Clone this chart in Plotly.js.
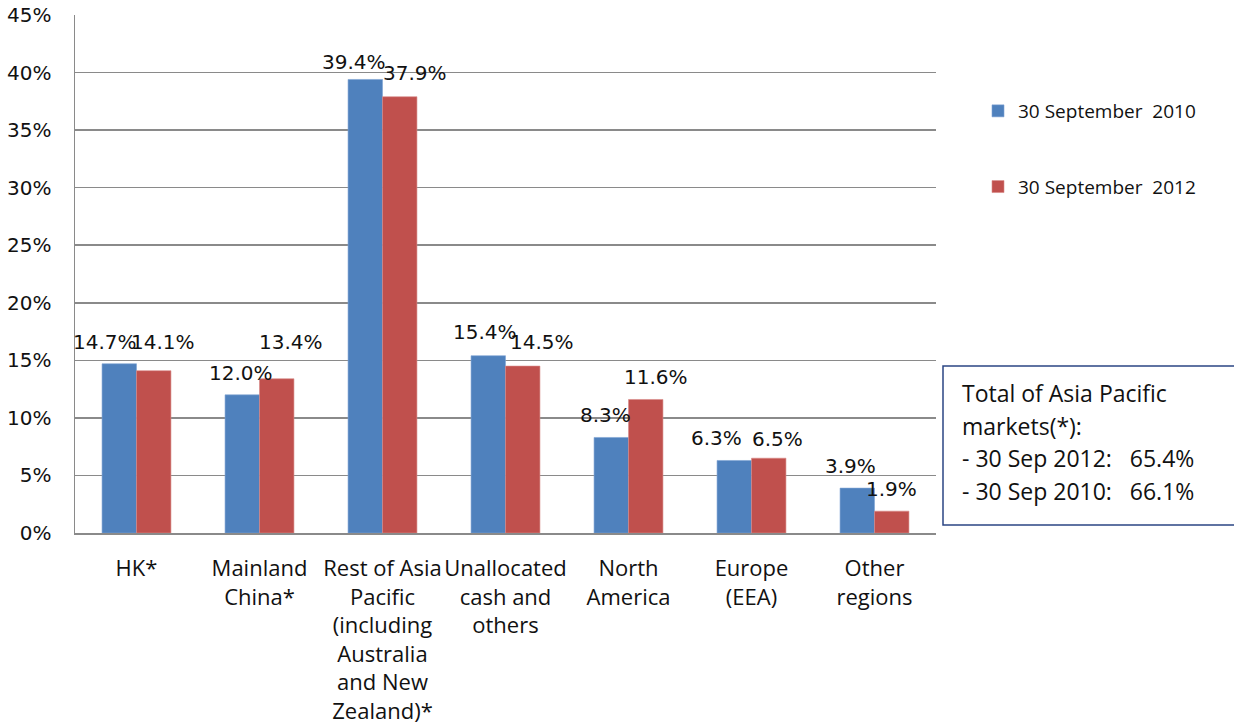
<!DOCTYPE html>
<html>
<head>
<meta charset="utf-8">
<script src="https://cdn.plot.ly/plotly-3.0.1.min.js"></script>
<style>
  html, body { margin: 0; padding: 0; background: #fff; }
  #chart { width: 1234px; height: 727px; }
</style>
</head>
<body>
<div id="chart"></div>
<script>
// Regional breakdown, share of total (%)
const categories = [
  "HK*",
  "Mainland<br>China*",
  "Rest of Asia<br>Pacific<br>(including<br>Australia<br>and New<br>Zealand)*",
  "Unallocated<br>cash and<br>others",
  "North<br>America",
  "Europe<br>(EEA)",
  "Other<br>regions"
];
const seriesNames = ["30 September\u00a0 2010", "30 September\u00a0 2012"];
const values2010 = [14.7, 12.0, 39.4, 15.4, 8.3, 6.3, 3.9];
const values2012 = [14.1, 13.4, 37.9, 14.5, 11.6, 6.5, 1.9];
const yTickValues = [0, 5, 10, 15, 20, 25, 30, 35, 40, 45];
const yTickLabels = ["0%", "5%", "10%", "15%", "20%", "25%", "30%", "35%", "40%", "45%"];
const boxLines = [
  "Total of Asia Pacific",
  "markets(*):",
  "- 30 Sep 2012:\u00a0\u00a0 65.4%",
  "- 30 Sep 2010:\u00a0\u00a0 66.1%"
];

const BLUE = "#4f81bd";
const RED = "#c0504d";
const GRID = "#8a8a8a";
const idx = categories.map((_, i) => i);

// label nudges (px) so neighbouring value labels don't collide
const shift2010 = [[-14, 0], [-1, 0], [-11, -5], [-3, 2], [-6, 0], [-18, 0], [-7, 0]];
const shift2012 = [[9, 7], [14, 15], [15, 2], [19, 2], [10, 0], [9, -3], [0, 0]];

const traces = [
  { type: "bar", name: seriesNames[0], x: idx, y: values2010, legendgroup: "a",
    marker: { color: BLUE, line: { color: "#7ea3d3", width: 0.6 } }, hoverinfo: "skip" },
  { type: "bar", name: seriesNames[1], x: idx, y: values2012, legendgroup: "b",
    marker: { color: RED, line: { color: "#d98a88", width: 0.6 } }, hoverinfo: "skip" }
];

const BAR_OFF = 0.14;
const annotations = [];
function addLabels(vals, offset, shifts) {
  vals.forEach((v, i) => {
    annotations.push({
      xref: "x", yref: "y", x: i + offset, y: v,
      text: v.toFixed(1) + "%", showarrow: false,
      yanchor: "middle", xanchor: "center",
      xshift: shifts[i][0], yshift: 22 + shifts[i][1],
      font: { family: "DejaVu Sans", size: 20, color: "#111" }
    });
  });
}
addLabels(values2010, -BAR_OFF, shift2010);
addLabels(values2012, BAR_OFF, shift2012);

// text inside the summary box
const boxTop = 393, boxStep = 32.5;
boxLines.forEach((line, k) => {
  annotations.push({
    xref: "paper", yref: "paper",
    x: (960 - 75) / 861, y: (533 - (boxTop + k * boxStep)) / 518,
    xanchor: "left", yanchor: "middle", showarrow: false, align: "left",
    text: line, font: { family: "Open Sans", size: 23, color: "#111" }
  });
});

const layout = {
  width: 1234, height: 727,
  margin: { l: 75, r: 298, t: 15, b: 194 },
  paper_bgcolor: "#fff", plot_bgcolor: "#fff",
  barmode: "group", bargap: 0.44, bargroupgap: 0,
  showlegend: true,
  legend: {
    x: (978 - 75) / 861, y: (533 - 92) / 518, xanchor: "left", yanchor: "top",
    traceorder: "grouped", tracegroupgap: 48,
    font: { family: "Open Sans", size: 19, color: "#111" },
    bgcolor: "rgba(0,0,0,0)"
  },
  xaxis: {
    type: "linear", range: [-0.5, 6.5],
    tickmode: "array", tickvals: idx, ticktext: categories,
    showgrid: false, zeroline: false, ticks: "",
    showline: true, linecolor: GRID, linewidth: 1.5,
    ticklabelstandoff: 15,
    tickfont: { family: "Open Sans", size: 22, color: "#111" },
    fixedrange: true
  },
  yaxis: {
    range: [0, 45], tickmode: "array", tickvals: yTickValues, ticktext: yTickLabels,
    showgrid: true, gridcolor: GRID, gridwidth: 1.5,
    zeroline: false, showline: true, linecolor: GRID, linewidth: 1.5,
    ticks: "", ticklabelstandoff: 18,
    tickfont: { family: "DejaVu Sans", size: 20, color: "#111" },
    fixedrange: true
  },
  shapes: [{
    type: "rect", xref: "paper", yref: "paper",
    x0: (943 - 75) / 861, x1: (1245 - 75) / 861,
    y0: (533 - 525) / 518, y1: (533 - 366) / 518,
    line: { color: "#2b4584", width: 1.5 }, fillcolor: "#fff", layer: "above"
  }],
  annotations: annotations
};

Plotly.newPlot("chart", traces, layout, { staticPlot: true, displayModeBar: false });
</script>
</body>
</html>
